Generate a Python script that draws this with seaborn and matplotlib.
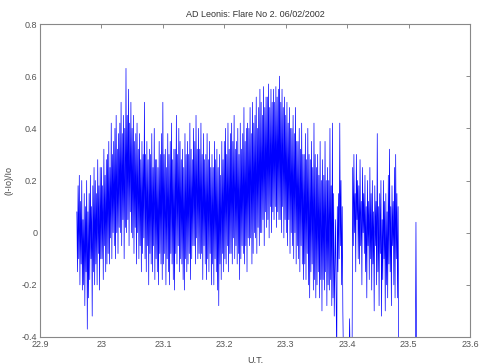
import numpy as np
import pandas as pd
import matplotlib
matplotlib.use("Agg")
import matplotlib.pyplot as plt
import seaborn as sns

title = "AD Leonis: Flare No 2. 06/02/2002"
x_label = "U.T."
y_label = "(I-Io)/Io"
x_ticks = [22.9, 23.0, 23.1, 23.2, 23.3, 23.4, 23.5, 23.6]
x_tick_labels = ["22.9", "23", "23.1", "23.2", "23.3", "23.4", "23.5", "23.6"]
y_ticks = [-0.4, -0.2, 0.0, 0.2, 0.4, 0.6, 0.8]
y_tick_labels = ["-0.4", "-0.2", "0", "0.2", "0.4", "0.6", "0.8"]

t_start = 22.960
t_step = 0.001

# 22.960 - 23.059
flux_rise = [
    0.08, -0.15, 0.18, -0.1, 0.22, -0.2, 0.12, -0.12, 0.2, -0.22,
    0.05, -0.2, 0.15, -0.28, 0.1, -0.15, 0.2, -0.37, 0.08, -0.25,
    0.15, -0.18, 0.22, -0.1, 0.1, -0.32, 0.18, -0.15, 0.25, -0.2,
    0.2, -0.12, 0.15, -0.2, 0.28, -0.08, 0.18, -0.22, 0.25, -0.1,
    0.25, -0.1, 0.18, -0.18, 0.32, -0.05, 0.22, -0.15, 0.28, -0.12,
    0.3, -0.08, 0.35, -0.12, 0.25, -0.02, 0.42, -0.1, 0.3, 0.0,
    0.35, -0.05, 0.4, -0.1, 0.45, 0.0, 0.32, -0.08, 0.38, 0.02,
    0.42, 0.0, 0.5, -0.05, 0.38, 0.05, 0.45, -0.1, 0.4, 0.02,
    0.63, 0.0, 0.45, 0.05, 0.55, -0.05, 0.42, 0.08, 0.5, 0.0,
    0.4, -0.02, 0.45, -0.08, 0.35, 0.02, 0.38, -0.12, 0.42, 0.0,
]
# 23.060 - 23.159
flux_mid = [
    0.32, -0.1, 0.38, -0.05, 0.28, -0.15, 0.35, -0.08, 0.3, -0.02,
    0.5, -0.1, 0.3, -0.15, 0.35, -0.05, 0.28, -0.2, 0.32, -0.08,
    0.3, -0.12, 0.38, -0.15, 0.25, -0.05, 0.4, -0.18, 0.28, -0.1,
    0.28, -0.15, 0.25, -0.2, 0.35, -0.08, 0.3, -0.12, 0.38, -0.18,
    0.5, -0.12, 0.3, -0.08, 0.32, -0.2, 0.25, -0.1, 0.38, -0.15,
    0.3, -0.2, 0.35, -0.08, 0.42, -0.12, 0.28, -0.18, 0.32, -0.22,
    0.32, -0.08, 0.45, -0.12, 0.3, -0.05, 0.4, -0.15, 0.35, -0.1,
    0.28, -0.12, 0.32, -0.18, 0.25, -0.22, 0.38, -0.1, 0.3, -0.15,
    0.35, -0.12, 0.3, -0.08, 0.42, -0.18, 0.32, -0.1, 0.28, -0.05,
    0.4, -0.05, 0.35, -0.12, 0.45, -0.02, 0.32, -0.1, 0.4, -0.08,
]
# 23.160 - 23.259
flux_second = [
    0.32, -0.1, 0.42, -0.08, 0.3, -0.18, 0.38, -0.05, 0.28, -0.12,
    0.3, -0.18, 0.38, -0.1, 0.28, -0.15, 0.35, -0.08, 0.25, -0.2,
    0.3, -0.12, 0.25, -0.2, 0.35, -0.1, 0.28, -0.15, 0.32, -0.22,
    0.25, -0.28, 0.3, -0.12, 0.22, -0.18, 0.35, -0.08, 0.28, -0.15,
    0.35, -0.1, 0.4, -0.12, 0.3, -0.05, 0.42, -0.15, 0.32, -0.08,
    0.38, -0.08, 0.42, -0.12, 0.35, -0.02, 0.45, -0.1, 0.32, -0.05,
    0.35, -0.12, 0.4, -0.08, 0.3, -0.18, 0.42, -0.1, 0.32, -0.05,
    0.38, -0.08, 0.48, -0.12, 0.35, -0.05, 0.4, -0.15, 0.42, -0.02,
    0.4, -0.05, 0.48, -0.02, 0.38, -0.12, 0.5, -0.08, 0.42, 0.0,
    0.45, -0.02, 0.52, -0.08, 0.4, 0.02, 0.48, -0.05, 0.55, 0.0,
]
# 23.260 - 23.379
flux_peak = [
    0.5, 0.0, 0.45, 0.05, 0.56, -0.05, 0.48, 0.08, 0.52, 0.02,
    0.52, 0.05, 0.57, -0.02, 0.48, 0.1, 0.55, 0.0, 0.5, 0.08,
    0.55, 0.05, 0.5, 0.1, 0.56, 0.02, 0.52, 0.08, 0.55, 0.05,
    0.6, 0.05, 0.5, 0.0, 0.55, 0.1, 0.48, -0.02, 0.52, 0.05,
    0.45, 0.0, 0.5, -0.05, 0.42, 0.05, 0.48, -0.08, 0.4, 0.0,
    0.4, -0.05, 0.45, -0.1, 0.38, 0.0, 0.48, -0.12, 0.35, -0.05,
    0.35, -0.1, 0.4, -0.15, 0.32, -0.05, 0.42, -0.12, 0.3, -0.18,
    0.3, -0.12, 0.38, -0.18, 0.28, -0.08, 0.4, -0.2, 0.3, -0.25,
    0.28, -0.15, 0.35, -0.12, 0.25, -0.22, 0.42, -0.18, 0.3, -0.25,
    0.25, -0.2, 0.3, -0.15, 0.22, -0.25, 0.35, -0.18, 0.2, -0.3,
    0.28, -0.18, 0.22, -0.22, 0.35, -0.15, 0.2, -0.28, 0.25, -0.2,
    0.2, -0.22, 0.4, -0.18, 0.18, -0.28, 0.42, -0.25, 0.15, -0.32,
]
# 23.380 - 23.408 (dropouts; -0.5 lies below the axis)
flux_gap1 = [
    -0.12, 0.05, -0.25, -0.5, 0.1, -0.15, 0.15, -0.1, 0.42, -0.05,
    0.2, -0.2, 0.1, -0.3, -0.5, -0.5, -0.5, -0.5, -0.5, -0.5,
    -0.5, -0.5, -0.5, -0.5, -0.33, -0.5, -0.5, -0.5, -0.5,
]
# 23.409 - 23.483
flux_tail = [
    0.25, -0.05, 0.3, 0.0, 0.15, -0.15, 0.3, 0.05, 0.2, -0.1,
    0.18, -0.12, 0.28, -0.05, 0.12, -0.2, 0.25, 0.0, 0.15, -0.08,
    0.22, -0.15, 0.1, -0.25, 0.2, -0.05, 0.12, -0.18, 0.25, -0.1,
    0.15, -0.22, 0.2, -0.12, 0.08, -0.3, 0.18, -0.05, 0.12, -0.2,
    0.38, -0.15, 0.1, -0.28, 0.15, -0.08, 0.2, -0.32, 0.05, -0.18,
    0.2, -0.1, 0.12, -0.3, 0.15, -0.2, 0.08, -0.25, 0.22, -0.12,
    0.32, -0.15, 0.1, -0.28, 0.18, -0.05, 0.12, -0.2, 0.25, -0.25,
    0.3, -0.1, 0.15, -0.25, 0.1,
]
# 23.484 - 23.513
flux_gap2 = [
    -0.5, -0.5, -0.5, -0.5, -0.5, -0.5, -0.5, -0.5, -0.5, -0.5,
    -0.5, -0.5, -0.5, -0.5, -0.5, -0.5, -0.5, -0.5, -0.5, -0.5,
    -0.5, -0.5, -0.5, -0.5, -0.5, -0.5, -0.5, -0.5, 0.04, -0.5,
]

flux = flux_rise + flux_mid + flux_second + flux_peak + flux_gap1 + flux_tail + flux_gap2
times = t_start + t_step * np.arange(len(flux))

df = pd.DataFrame({"t": times, "flux": flux})

sns.set_style("white")
plt.rcParams["font.family"] = ["Liberation Sans", "DejaVu Sans"]

fig = plt.figure(figsize=(4.8, 3.64), dpi=100)
ax = fig.add_axes([0.0833, 0.0742, 0.8959, 0.8598])

sns.lineplot(data=df, x="t", y="flux", ax=ax, sort=False, estimator=None,
             color="#0000ff", linewidth=0.5)

ax.set_xlim(22.9, 23.6)
ax.set_ylim(-0.4, 0.8)
ax.set_xticks(x_ticks)
ax.set_xticklabels(x_tick_labels)
ax.set_yticks(y_ticks)
ax.set_yticklabels(y_tick_labels)
ax.tick_params(direction="in", length=3, width=0.6, colors="#777777",
               labelcolor="#555555", labelsize=6.5, top=True, right=True,
               labeltop=False, labelright=False, pad=2)
for s in ax.spines.values():
    s.set_color("#888888")
    s.set_linewidth(0.8)
ax.set_xlabel(x_label, fontsize=6.5, color="#444444", labelpad=5)
ax.set_ylabel(y_label, fontsize=6.5, color="#444444", labelpad=6)
ax.set_title(title, fontsize=6.5, color="#333333", pad=5)

fig.savefig("out.png", dpi=100)
